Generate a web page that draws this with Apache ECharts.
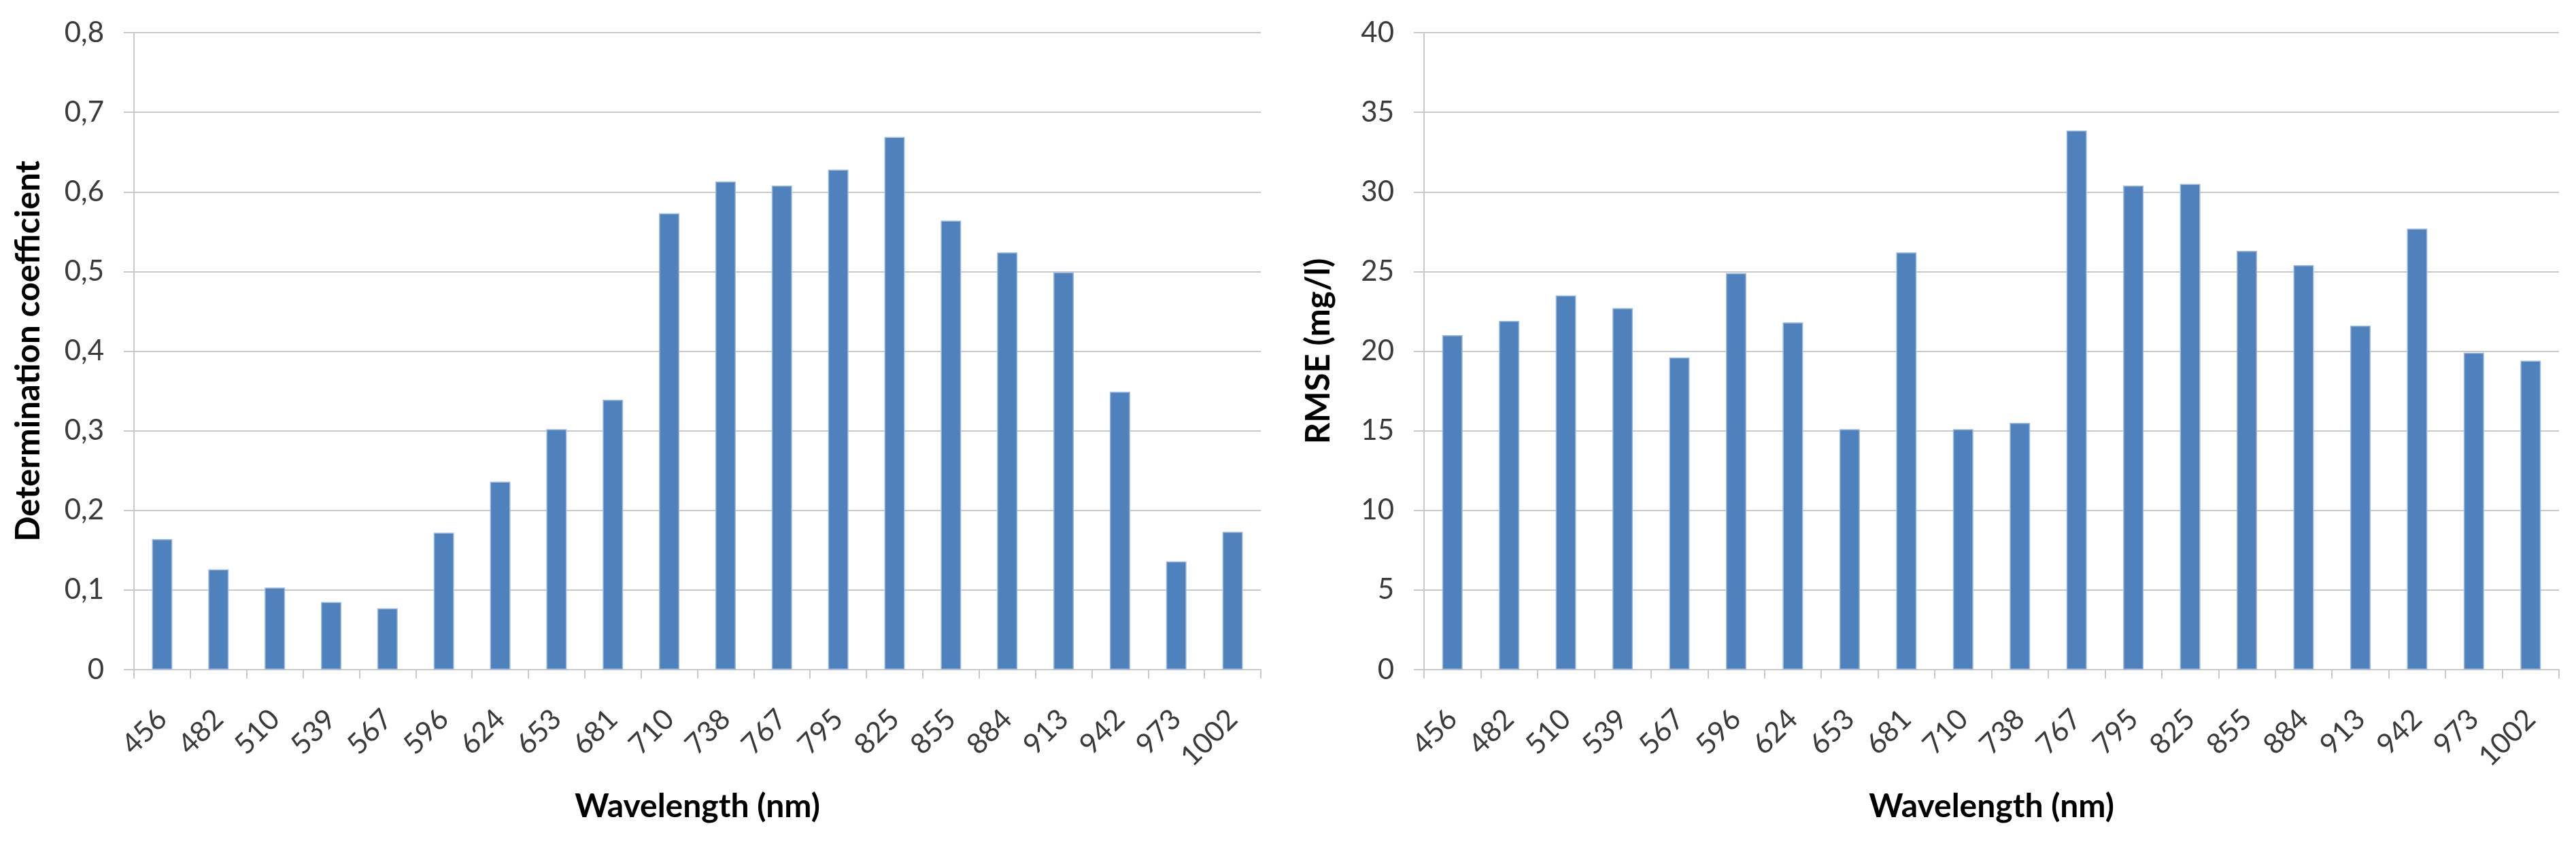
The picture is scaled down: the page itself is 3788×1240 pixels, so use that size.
<!DOCTYPE html>
<html>
<head>
<meta charset="utf-8">
<script src="https://cdn.jsdelivr.net/npm/echarts@6/dist/echarts.min.js"></script>
<style>
  html, body { margin: 0; padding: 0; background: #ffffff; }
  #chart { width: 3788px; height: 1240px; }
</style>
</head>
<body>
<div id="chart"></div>
<script>
// Data
var wavelengths = ['456','482','510','539','567','596','624','653','681','710','738','767','795','825','855','884','913','942','973','1002'];
var determinationCoefficient = [0.164,0.126,0.103,0.085,0.077,0.172,0.236,0.302,0.339,0.573,0.613,0.608,0.628,0.669,0.564,0.524,0.499,0.349,0.136,0.173];
var rmse = [21.0,21.9,23.5,22.7,19.6,24.9,21.8,15.1,26.2,15.1,15.5,33.85,30.4,30.5,26.3,25.4,21.6,27.7,19.9,19.4];
var leftTitleY = 'Determination coefficient';
var rightTitleY = 'RMSE (mg/l)';
var titleX = 'Wavelength (nm)';

var FONT = 'Lato, "Open Sans", sans-serif';
var gridColor = '#c9c9c9';
var labelColor = '#3a3a3a';

function xAxisCfg(gridIndex) {
  return {
    type: 'category',
    gridIndex: gridIndex,
    data: wavelengths,
    name: titleX,
    nameLocation: 'middle',
    nameGap: 178,
    nameTextStyle: { fontFamily: FONT, fontWeight: 'bold', fontSize: 48, color: '#000' },
    axisLine: { show: true, lineStyle: { color: gridColor, width: 2 } },
    axisTick: { show: true, alignWithLabel: false, interval: 0, length: 13, lineStyle: { color: gridColor, width: 2 } },
    axisLabel: { interval: 0, rotate: 45, margin: 66, fontFamily: FONT, fontSize: 42, color: labelColor },
    splitLine: { show: false }
  };
}

function yAxisCfg(gridIndex, name, max, interval, fmt) {
  return {
    type: 'value',
    gridIndex: gridIndex,
    min: 0,
    max: max,
    interval: interval,
    name: name,
    nameLocation: 'middle',
    nameGap: 130,
    nameRotate: 90,
    nameTextStyle: { fontFamily: FONT, fontWeight: 'bold', fontSize: 49, color: '#000' },
    axisLine: { show: true, lineStyle: { color: gridColor, width: 2 } },
    axisTick: { show: true, length: 15, lineStyle: { color: gridColor, width: 2 } },
    axisLabel: { margin: 44, fontFamily: FONT, fontSize: 42, color: labelColor, formatter: fmt },
    splitLine: { show: true, lineStyle: { color: gridColor, width: 2 } }
  };
}

var barStyle = { color: '#4f81bd', borderColor: '#9dbbe0', borderWidth: 1.5 };

var chart = echarts.init(document.getElementById('chart'), null, { renderer: 'canvas' });
chart.setOption({
  animation: false,
  backgroundColor: '#ffffff',
  grid: [
    { left: 197, top: 48, width: 1657, height: 937 },
    { left: 2094, top: 48, width: 1669, height: 937 }
  ],
  xAxis: [xAxisCfg(0), xAxisCfg(1)],
  yAxis: [
    yAxisCfg(0, leftTitleY, 0.8, 0.1, function (v) { return v === 0 ? '0' : v.toFixed(1).replace('.', ','); }),
    yAxisCfg(1, rightTitleY, 40, 5, function (v) { return String(v); })
  ],
  series: [
    { type: 'bar', xAxisIndex: 0, yAxisIndex: 0, data: determinationCoefficient, barWidth: 30, itemStyle: barStyle },
    { type: 'bar', xAxisIndex: 1, yAxisIndex: 1, data: rmse, barWidth: 30, itemStyle: barStyle }
  ]
});
</script>
</body>
</html>
